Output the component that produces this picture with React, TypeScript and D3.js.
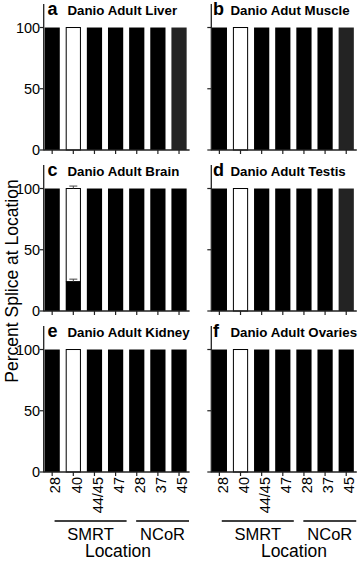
import React from "react";
import * as d3 from "d3";

const categories = ["28", "40", "44/45", "47", "28", "37", "45"];
const groups = ["SMRT", "NCoR"];
const groupIndex = [0, 0, 0, 0, 1, 1, 1];
const yTicks = [0, 50, 100];

const panelLetters = ["a", "b", "c", "d", "e", "f"];
const panelTitles = [
  "Danio Adult Liver",
  "Danio Adut Muscle",
  "Danio Adult Brain",
  "Danio Adult Testis",
  "Danio Adult Kidney",
  "Danio Adult Ovaries",
];

// percent spliced: black (main) and white (alternative) segments
const liverBlack = [100, 0, 100, 100, 100, 100, 100];
const liverWhite = [0, 100, 0, 0, 0, 0, 0];
const muscleBlack = [100, 0, 100, 100, 100, 100, 100];
const muscleWhite = [0, 100, 0, 0, 0, 0, 0];
const brainBlack = [100, 24, 100, 100, 100, 100, 100];
const brainWhite = [0, 76, 0, 0, 0, 0, 0];
const brainBlackErr = [0, 2, 0, 0, 0, 0, 0];
const brainWhiteErr = [0, 2, 0, 0, 0, 0, 0];
const testisBlack = [100, 0, 100, 100, 100, 100, 100];
const testisWhite = [0, 100, 0, 0, 0, 0, 0];
const kidneyBlack = [100, 0, 100, 100, 100, 100, 100];
const kidneyWhite = [0, 100, 0, 0, 0, 0, 0];
const ovariesBlack = [100, 0, 100, 100, 100, 100, 100];
const ovariesWhite = [0, 100, 0, 0, 0, 0, 0];
const zeroErr = [0, 0, 0, 0, 0, 0, 0];

const blackSeries = [liverBlack, muscleBlack, brainBlack, testisBlack, kidneyBlack, ovariesBlack];
const whiteSeries = [liverWhite, muscleWhite, brainWhite, testisWhite, kidneyWhite, ovariesWhite];
const blackErrSeries = [zeroErr, zeroErr, brainBlackErr, zeroErr, zeroErr, zeroErr];
const whiteErrSeries = [zeroErr, zeroErr, brainWhiteErr, zeroErr, zeroErr, zeroErr];
const grayLastBarPanels = ["a", "b", "d"];

const W = 358;
const H = 561;
const FONT = "Liberation Sans, Arial, Helvetica, sans-serif";

const cols = [
  { axisX: 43.7, r0: 41.6, letterX: 47.5, titleX: 67.5, locX: 118 },
  { axisX: 211.3, r0: 208.8, letterX: 213, titleX: 230.5, locX: 294 },
];
const rowBase = [150, 311, 472];

function Panel({ idx }: { idx: number }) {
  const col = cols[idx % 2];
  const row = Math.floor(idx / 2);
  const y0 = rowBase[row];
  const x = d3
    .scaleBand<number>()
    .domain(d3.range(categories.length))
    .range([col.r0, col.r0 + 148])
    .paddingInner(0.28)
    .paddingOuter(0.14);
  const y = d3.scaleLinear().domain([0, 119.2]).range([y0, y0 - 146]);
  const black = blackSeries[idx];
  const white = whiteSeries[idx];
  const bErr = blackErrSeries[idx];
  const wErr = whiteErrSeries[idx];
  const bw = x.bandwidth();
  const xEnd = col.r0 + 148;
  const axisColor = "#222";
  const letter = panelLetters[idx];
  const isBottom = row === 2;

  return (
    <g>
      {categories.map((c, i) => {
        const x0 = x(i)!;
        const lastGray = i === categories.length - 1 && grayLastBarPanels.includes(letter);
        const els: any[] = [];
        if (black[i] > 0) {
          els.push(
            <rect
              key="b"
              x={x0}
              y={y(black[i])}
              width={bw}
              height={y(0) - y(black[i])}
              fill={lastGray ? "#232323" : "#000"}
            />
          );
        }
        if (white[i] > 0) {
          els.push(
            <rect
              key="w"
              x={x0 + 0.5}
              y={y(black[i] + white[i])}
              width={bw - 1}
              height={y(black[i]) - y(black[i] + white[i])}
              fill="#fff"
              stroke="#000"
              strokeWidth={1}
            />
          );
        }
        const cx = x0 + bw / 2;
        if (bErr[i] > 0) {
          const v = black[i];
          els.push(
            <g key="eb" stroke="#444" strokeWidth={1}>
              <line x1={cx} x2={cx} y1={y(v)} y2={y(v + bErr[i])} />
              <line x1={cx - 4} x2={cx + 4} y1={y(v + bErr[i])} y2={y(v + bErr[i])} />
            </g>
          );
        }
        if (wErr[i] > 0) {
          const v = black[i] + white[i];
          els.push(
            <g key="ew" stroke="#444" strokeWidth={1}>
              <line x1={cx} x2={cx} y1={y(v)} y2={y(v + wErr[i])} />
              <line x1={cx - 4} x2={cx + 4} y1={y(v + wErr[i])} y2={y(v + wErr[i])} />
            </g>
          );
        }
        return <g key={i}>{els}</g>;
      })}

      {/* axes */}
      <line x1={col.axisX} x2={col.axisX} y1={y(119.2)} y2={y(0) + 0.6} stroke={axisColor} strokeWidth={1.3} />
      <line x1={col.axisX} x2={xEnd} y1={y(0)} y2={y(0)} stroke={axisColor} strokeWidth={1.3} />
      {yTicks.map((t) => (
        <g key={t}>
          <line x1={col.axisX - 4} x2={col.axisX} y1={y(t)} y2={y(t)} stroke={axisColor} strokeWidth={1.2} />
          {idx % 2 === 0 && (
            <text
              x={col.axisX - 3.5}
              y={y(t)}
              dy="0.36em"
              textAnchor="end"
              fontSize={14.5}
              fontFamily={FONT}
              fill="#000"
            >
              {t}
            </text>
          )}
        </g>
      ))}
      {categories.map((c, i) => {
        const cx = x(i)! + bw / 2;
        return (
          <line key={"xt" + i} x1={cx} x2={cx} y1={y(0)} y2={y(0) + 4} stroke={axisColor} strokeWidth={1.2} />
        );
      })}

      {/* title */}
      <text x={col.letterX} y={y0 - 135} fontSize={18} fontWeight="bold" fontFamily={FONT}>
        {letter}
      </text>
      <text x={col.titleX} y={y0 - 135} fontSize={13.3} fontWeight="bold" fontFamily={FONT}>
        {panelTitles[idx]}
      </text>

      {isBottom && (
        <g>
          {categories.map((c, i) => {
            const cx = x(i)! + bw / 2 + 3;
            return (
              <text
                key={"xl" + i}
                transform={`translate(${cx},${y0 + 5}) rotate(-90)`}
                dy="0.36em"
                textAnchor="end"
                fontSize={14.5}
                fontFamily={FONT}
              >
                {c}
              </text>
            );
          })}
          {groups.map((g, gi) => {
            const members = d3.range(categories.length).filter((i) => groupIndex[i] === gi);
            const first = members[0];
            const last = members[members.length - 1];
            const xs = x(first)! + bw / 2 + (gi === 0 ? 2.4 : -0.6);
            const xe = x(last)! + bw / 2 + (gi === 0 ? 11 : 10);
            return (
              <g key={g}>
                <line x1={xs} x2={xe} y1={y0 + 49} y2={y0 + 49} stroke="#000" strokeWidth={1.5} />
                <text
                  x={(xs + xe) / 2}
                  y={y0 + 68}
                  textAnchor="middle"
                  fontSize={16.5}
                  fontFamily={FONT}
                >
                  {g}
                </text>
              </g>
            );
          })}
          <text x={col.locX} y={y0 + 85} textAnchor="middle" fontSize={17.5} fontFamily={FONT}>
            Location
          </text>
        </g>
      )}
    </g>
  );
}

export default function App() {
  return (
    <svg
      width={W}
      height={H}
      viewBox={`0 0 ${W} ${H}`}
      style={{ position: "absolute", left: 0, top: 0, background: "#fff" }}
    >
      <rect width={W} height={H} fill="#fff" />
      {panelLetters.map((l, i) => (
        <Panel key={l} idx={i} />
      ))}
      <text
        transform={`translate(18,281) rotate(-90)`}
        textAnchor="middle"
        fontSize={17.5}
        fontFamily={FONT}
      >
        Percent Splice at Location
      </text>
    </svg>
  );
}
